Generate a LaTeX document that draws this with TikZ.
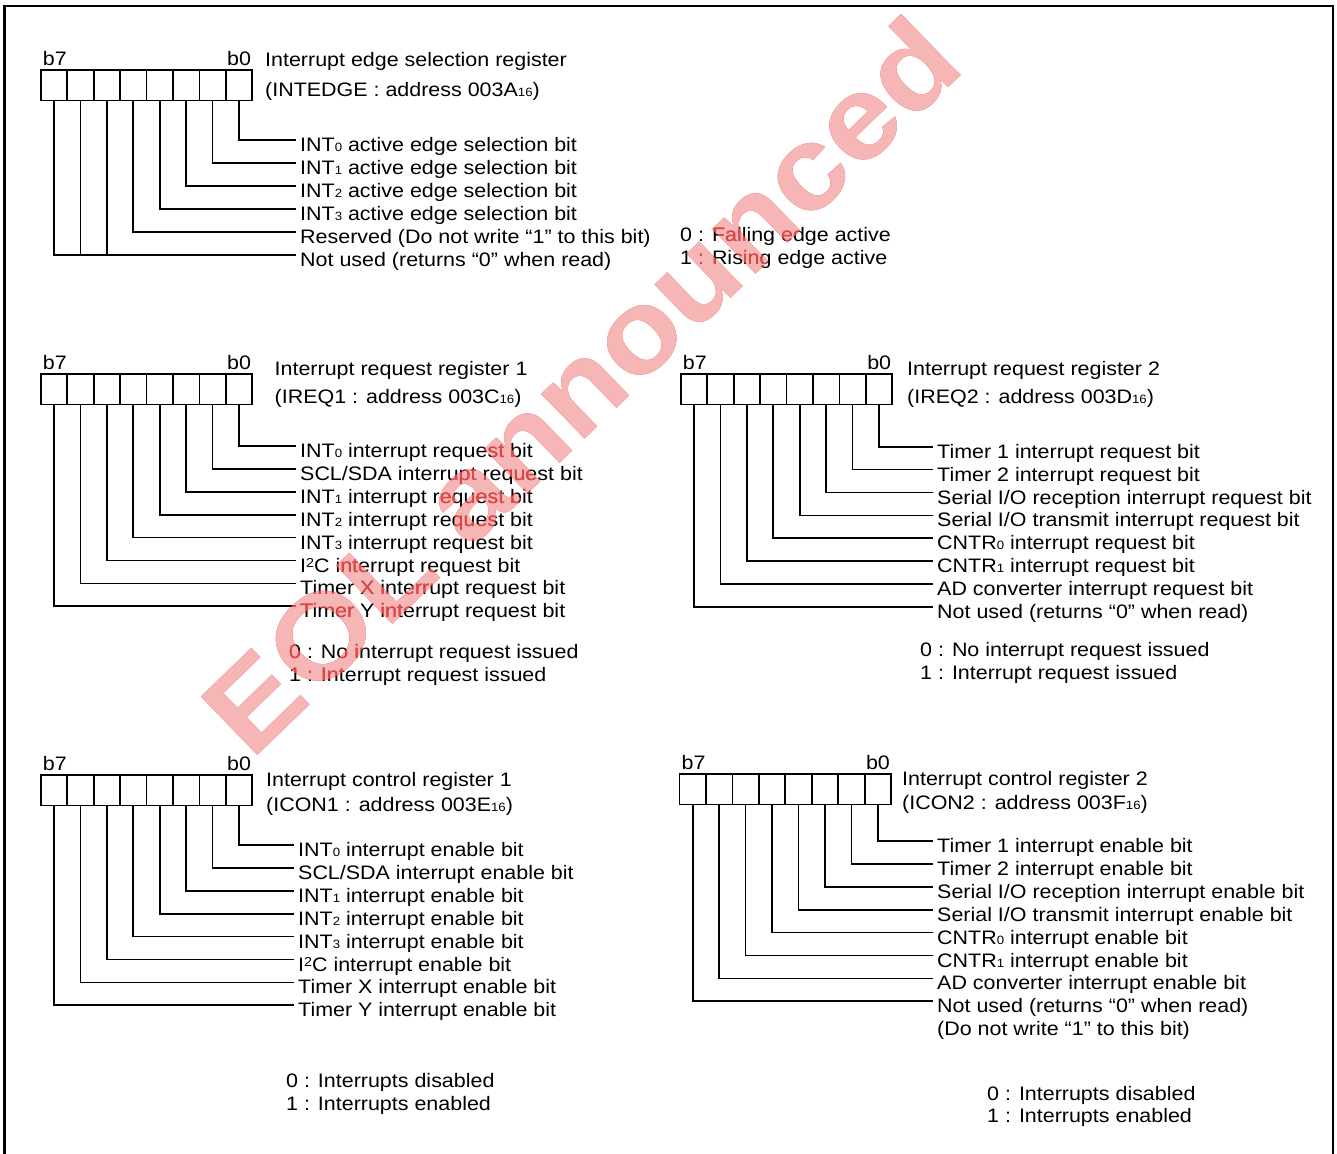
\documentclass[tikz,border=0pt]{standalone}
\usepackage{fontspec}
\setmainfont{Liberation Sans}[FakeStretch=1.1]
\definecolor{wmpink}{RGB}{246,182,182}
\definecolor{wmred}{RGB}{222,70,70}
\newcommand{\lo}[1]{{\fontsize{12}{12}\selectfont #1}}
\newcommand{\hi}[1]{\raisebox{4.6pt}{\fontsize{13}{13}\selectfont #1}}

\begin{document}
\begin{tikzpicture}
		[x=1pt,y=-1pt,font=\fontsize{19.5}{23}\selectfont,
		cell/.style={draw,line width=1.8pt,minimum width=26.45pt,minimum height=30.5pt,inner sep=0pt,outer sep=0pt},
		bit label/.style={anchor=west,inner xsep=4pt,inner ysep=0pt,text height=23pt,text depth=0pt},
		plain text/.style={anchor=base west,inner sep=0pt},
		leader/.style={line width=1.7pt},
		watermark/.style={rotate=44,font=\fontsize{118}{118}\selectfont\bfseries}]
		
		\useasboundingbox (0,0) rectangle (1337,1153);
		% watermark under the drawing
		\node[watermark,text=wmpink] (eol) at (580,385) {EOL announced};
		\draw[line width=2.4pt] (4.5,1165) -- (4.5,6) -- (1333,6) -- (1333,1165);
		
		% the five registers, bit 7 on the left
		\foreach \r/\x/\y in {a/40.7/70,b/40.7/374,c/680.7/374,d/40.7/775,e/679.5/774}{
			\foreach \i in {0,...,7}
				\node[cell] (\r\i) at ({\x+26.45*(7.5-\i)},{\y+15.25}) {};
			\node[plain text] (\r msb) at ([xshift=2pt,yshift=4.5pt]\r7.north west) {b7};
			\node[plain text,anchor=base east] (\r lsb) at ([xshift=-1pt,yshift=4.5pt]\r0.north east) {b0};
		}
		
		% INTEDGE
		\node[plain text] (atitle) at (265,67) {Interrupt edge selection register};
		\node[plain text] (aaddr) at (265,96) {(INTEDGE : address 003A\lo{16})};
		\foreach \i/\txt in {0/{INT\lo{0} active edge selection bit},1/{INT\lo{1} active edge selection bit},
			2/{INT\lo{2} active edge selection bit},3/{INT\lo{3} active edge selection bit},
			4/{Reserved (Do not write “1” to this bit)},5/{Not used (returns “0” when read)}}{
			\node[bit label] (al\i) at (296,{140+22.95*\i}) {\txt};
			\draw[leader] (a\i.south) |- (al\i.west);
		}
		\draw[leader] (a6.south) -- (a6.south |- al5.west);
		\draw[leader] (a7.south) |- (al5.west);
		\node[plain text] (aset0) at (680,241) {0 : Falling edge active};
		\node[plain text] (aset1) at (680,264) {1 : Rising edge active};
		
		% IREQ1
		\node[plain text] (btitle) at (274.5,375) {Interrupt request register 1};
		\node[plain text] (baddr) at (274.5,403) {(IREQ1 : address 003C\lo{16})};
		\foreach \i/\txt in {0/{INT\lo{0} interrupt request bit},1/{SCL/SDA interrupt request bit},
			2/{INT\lo{1} interrupt request bit},3/{INT\lo{2} interrupt request bit},
			4/{INT\lo{3} interrupt request bit},5/{I\hi{2}C interrupt request bit},
			6/{Timer X interrupt request bit},7/{Timer Y interrupt request bit}}{
			\node[bit label] (bl\i) at (296,{446+22.9*\i}) {\txt};
			\draw[leader] (b\i.south) |- (bl\i.west);
		}
		\node[plain text] (bset0) at (289,658) {0 : No interrupt request issued};
		\node[plain text] (bset1) at (289,681) {1 : Interrupt request issued};
		
		% IREQ2
		\node[plain text] (ctitle) at (907,375) {Interrupt request register 2};
		\node[plain text] (caddr) at (907,403) {(IREQ2 : address 003D\lo{16})};
		\foreach \i/\txt in {0/{Timer 1 interrupt request bit},1/{Timer 2 interrupt request bit},
			2/{Serial I/O reception interrupt request bit},3/{Serial I/O transmit interrupt request bit},
			4/{CNTR\lo{0} interrupt request bit},5/{CNTR\lo{1} interrupt request bit},
			6/{AD converter interrupt request bit},7/{Not used (returns “0” when read)}}{
			\node[bit label] (cl\i) at (933,{446.7+22.9*\i}) {\txt};
			\draw[leader] (c\i.south) |- (cl\i.west);
		}
		\node[plain text] (cset0) at (920,656) {0 : No interrupt request issued};
		\node[plain text] (cset1) at (920,679) {1 : Interrupt request issued};
		
		% ICON1
		\node[plain text] (dtitle) at (266,786) {Interrupt control register 1};
		\node[plain text] (daddr) at (266,811) {(ICON1 : address 003E\lo{16})};
		\foreach \i/\txt in {0/{INT\lo{0} interrupt enable bit},1/{SCL/SDA interrupt enable bit},
			2/{INT\lo{1} interrupt enable bit},3/{INT\lo{2} interrupt enable bit},
			4/{INT\lo{3} interrupt enable bit},5/{I\hi{2}C interrupt enable bit},
			6/{Timer X interrupt enable bit},7/{Timer Y interrupt enable bit}}{
			\node[bit label] (dl\i) at (294,{845+22.9*\i}) {\txt};
			\draw[leader] (d\i.south) |- (dl\i.west);
		}
		\node[plain text] (dset0) at (286,1087) {0 : Interrupts disabled};
		\node[plain text] (dset1) at (286,1110) {1 : Interrupts enabled};
		
		% ICON2
		\node[plain text] (etitle) at (902,785) {Interrupt control register 2};
		\node[plain text] (eaddr) at (902,809) {(ICON2 : address 003F\lo{16})};
		\foreach \i/\txt in {0/{Timer 1 interrupt enable bit},1/{Timer 2 interrupt enable bit},
			2/{Serial I/O reception interrupt enable bit},3/{Serial I/O transmit interrupt enable bit},
			4/{CNTR\lo{0} interrupt enable bit},5/{CNTR\lo{1} interrupt enable bit},
			6/{AD converter interrupt enable bit},7/{Not used (returns “0” when read)}}{
			\node[bit label] (el\i) at (933,{841+22.9*\i}) {\txt};
			\draw[leader] (e\i.south) |- (el\i.west);
		}
		\node[plain text] (enote) at (937,1035.5) {(Do not write “1” to this bit)};
		\node[plain text] (eset0) at (987,1100) {0 : Interrupts disabled};
		\node[plain text] (eset1) at (987,1122) {1 : Interrupts enabled};
		
		% watermark tint over the black text
		\begin{scope}[blend mode=lighten]
			\node[watermark,text=wmred] (eoltint) at (eol) {EOL announced};
		\end{scope}
		\end{tikzpicture}
\end{document}
